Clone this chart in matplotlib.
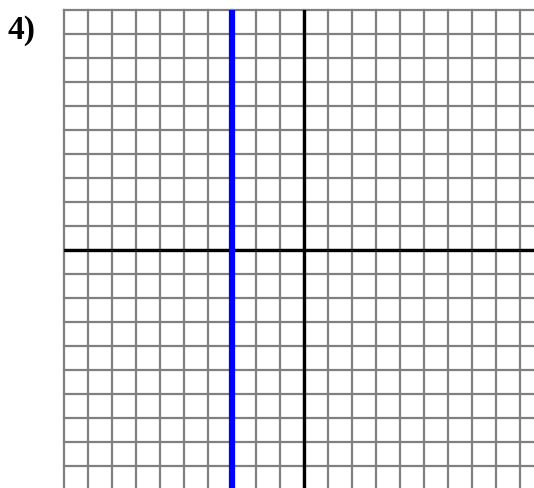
import matplotlib
matplotlib.use("Agg")
import matplotlib.pyplot as plt

# grid extent (in units)
x_lines = list(range(-10, 10))
y_lines = list(range(-9, 11))
x_lim = (-10, 9.58)
y_lim = (-9.92, 10)

# vertical line to highlight
blue_x = -3
label = "4)"

fig = plt.figure(figsize=(5.34, 4.89), dpi=100)
ax = fig.add_axes([64 / 534, 0, 470 / 534, 478 / 489])
ax.set_xlim(*x_lim)
ax.set_ylim(*y_lim)
ax.axis("off")

for xv in x_lines:
    ax.axvline(xv, color="#808080", lw=1.6, clip_on=False, zorder=1)
for yv in y_lines:
    ax.axhline(yv, color="#808080", lw=1.6, clip_on=False, zorder=1)

ax.axvline(0, color="black", lw=2.4, zorder=2)
ax.axhline(0, color="black", lw=2.4, zorder=2)
ax.axvline(blue_x, color="#0000ff", lw=4.5, zorder=3)

fig.text(8 / 534, 1 - 15 / 489, label, fontsize=24, fontweight="bold",
         family="Liberation Serif", ha="left", va="top")

fig.savefig("out.png", dpi=100)
